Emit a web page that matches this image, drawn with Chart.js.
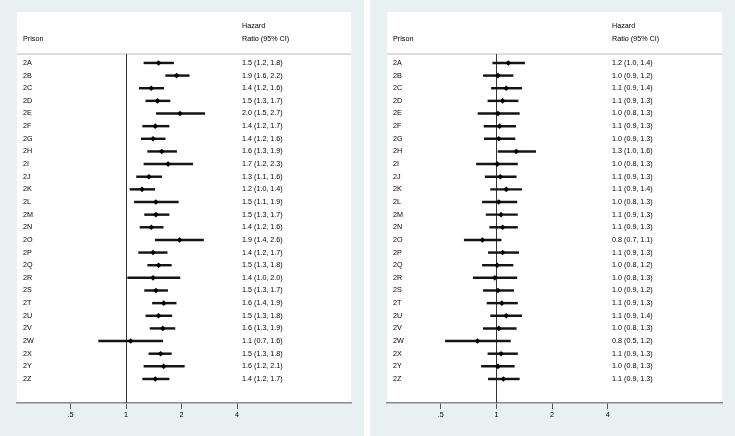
<!DOCTYPE html>
<html>
<head>
<meta charset="utf-8">
<script src="https://cdn.jsdelivr.net/npm/chart.js@4.4.1/dist/chart.umd.min.js"></script>
<style>
  body { margin: 0; background: #ffffff; width: 735px; height: 436px; overflow: hidden; }
  .panel { position: absolute; top: 0; height: 436px; background: #e9f0f2; }
  #leftBox { left: 0; width: 364px; }
  #rightBox { left: 370px; width: 365px; }
</style>
</head>
<body>
<div class="panel" id="leftBox"><canvas id="leftChart"></canvas></div>
<div class="panel" id="rightBox"><canvas id="rightChart"></canvas></div>
<script>
const prisons = ['2A','2B','2C','2D','2E','2F','2G','2H','2I','2J','2K','2L','2M',
                 '2N','2O','2P','2Q','2R','2S','2T','2U','2V','2W','2X','2Y','2Z'];

const tickValues = [0.5, 1, 2, 4];
const tickLabels = ['.5', '1', '2', '4'];

// left panel
const leftHR = [1.50,1.88,1.37,1.48,1.96,1.44,1.40,1.56,1.69,1.33,1.22,1.45,1.45,
                1.37,1.95,1.40,1.50,1.40,1.45,1.60,1.50,1.58,1.06,1.54,1.60,1.44];
const leftLow = [1.25,1.64,1.18,1.28,1.46,1.23,1.21,1.31,1.25,1.14,1.05,1.11,1.26,
                 1.19,1.44,1.17,1.31,1.02,1.26,1.39,1.28,1.35,0.71,1.33,1.25,1.23];
const leftHigh = [1.81,2.20,1.60,1.73,2.67,1.71,1.63,1.88,2.30,1.56,1.43,1.92,1.71,
                  1.59,2.63,1.67,1.76,1.96,1.68,1.87,1.77,1.84,1.58,1.76,2.07,1.71];
const leftText = ['1.5 (1.2, 1.8)','1.9 (1.6, 2.2)','1.4 (1.2, 1.6)','1.5 (1.3, 1.7)',
  '2.0 (1.5, 2.7)','1.4 (1.2, 1.7)','1.4 (1.2, 1.6)','1.6 (1.3, 1.9)','1.7 (1.2, 2.3)',
  '1.3 (1.1, 1.6)','1.2 (1.0, 1.4)','1.5 (1.1, 1.9)','1.5 (1.3, 1.7)','1.4 (1.2, 1.6)',
  '1.9 (1.4, 2.6)','1.4 (1.2, 1.7)','1.5 (1.3, 1.8)','1.4 (1.0, 2.0)','1.5 (1.3, 1.7)',
  '1.6 (1.4, 1.9)','1.5 (1.3, 1.8)','1.6 (1.3, 1.9)','1.1 (0.7, 1.6)','1.5 (1.3, 1.8)',
  '1.6 (1.2, 2.1)','1.4 (1.2, 1.7)'];

// right panel
const rightHR = [1.16,1.02,1.13,1.08,1.02,1.04,1.03,1.28,1.01,1.05,1.13,1.03,1.06,
                 1.08,0.84,1.08,1.01,0.98,1.02,1.07,1.13,1.03,0.79,1.06,1.02,1.09];
const rightLow = [0.955,0.85,0.94,0.90,0.795,0.857,0.86,1.02,0.78,0.87,0.93,0.84,0.88,
                  0.92,0.67,0.905,0.84,0.75,0.85,0.89,0.93,0.85,0.53,0.90,0.83,0.905];
const rightHigh = [1.42,1.23,1.37,1.31,1.33,1.27,1.26,1.63,1.30,1.28,1.37,1.29,1.30,
                   1.30,1.06,1.32,1.23,1.29,1.24,1.30,1.37,1.28,1.19,1.30,1.25,1.33];
const rightText = ['1.2 (1.0, 1.4)','1.0 (0.9, 1.2)','1.1 (0.9, 1.4)','1.1 (0.9, 1.3)',
  '1.0 (0.8, 1.3)','1.1 (0.9, 1.3)','1.0 (0.9, 1.3)','1.3 (1.0, 1.6)','1.0 (0.8, 1.3)',
  '1.1 (0.9, 1.3)','1.1 (0.9, 1.4)','1.0 (0.8, 1.3)','1.1 (0.9, 1.3)','1.1 (0.9, 1.3)',
  '0.8 (0.7, 1.1)','1.1 (0.9, 1.3)','1.0 (0.8, 1.2)','1.0 (0.8, 1.3)','1.0 (0.9, 1.2)',
  '1.1 (0.9, 1.3)','1.1 (0.9, 1.4)','1.0 (0.8, 1.3)','0.8 (0.5, 1.2)','1.1 (0.9, 1.3)',
  '1.0 (0.8, 1.3)','1.1 (0.9, 1.3)'];

const FONT = '7.2px "Liberation Sans", Arial, sans-serif';
const INK = '#000000';

// white plot area, header, separator, reference line and the text columns
const forestDecor = {
  id: 'forestDecor',
  beforeDraw(chart) {
    const {ctx, chartArea: a} = chart;
    ctx.save();
    ctx.fillStyle = '#ffffff';
    ctx.fillRect(a.left, a.top, a.right - a.left, a.bottom - a.top);
    ctx.restore();
  },
  beforeDatasetsDraw(chart) {
    const {ctx, chartArea: a, scales} = chart;
    const sepY = a.top + 42;
    ctx.save();
    ctx.strokeStyle = '#d2d2d2';
    ctx.lineWidth = 1.5;
    ctx.beginPath();
    ctx.moveTo(a.left, sepY);
    ctx.lineTo(a.right, sepY);
    ctx.stroke();
    const x1 = Math.round(scales.x.getPixelForValue(1)) + 0.5;
    ctx.strokeStyle = '#333';
    ctx.lineWidth = 1;
    ctx.beginPath();
    ctx.moveTo(x1, sepY);
    ctx.lineTo(x1, a.bottom);
    ctx.stroke();
    ctx.restore();
  },
  afterDraw(chart) {
    const {ctx, chartArea: a, scales} = chart;
    const texts = chart.options.plugins.forestDecor.texts;
    ctx.save();
    ctx.font = FONT;
    ctx.fillStyle = INK;
    ctx.textBaseline = 'middle';
    ctx.textAlign = 'left';
    const colName = a.left + 6, colHR = a.left + 225;
    ctx.fillText('Prison', colName, a.top + 27);
    ctx.fillText('Hazard', colHR, a.top + 14);
    ctx.fillText('Ratio (95% CI)', colHR, a.top + 27);
    prisons.forEach((p, i) => {
      const y = scales.y.getPixelForValue(i + 1);
      ctx.fillText(p, colName, y);
      ctx.fillText(texts[i], colHR, y);
    });
    ctx.restore();
  }
};

function drawForest(canvasId, hr, low, high, texts) {
  const ctx = document.getElementById(canvasId);
  return new Chart(ctx, {
    type: 'bar',
    data: {
      datasets: [{
        type: 'scatter',
        data: hr.map((v, i) => ({x: v, y: i + 1})),
        pointStyle: 'rectRot',
        pointRadius: 2.8,
        pointBackgroundColor: '#000',
        pointBorderWidth: 0,
        showLine: false,
        order: 0
      }, {
        type: 'bar',
        data: low.map((v, i) => ({x: [v, high[i]], y: i + 1})),
        backgroundColor: '#151515',
        borderWidth: 0,
        barThickness: 1.8,
        order: 1
      }]
    },
    options: {
      indexAxis: 'y',
      responsive: false,
      animation: false,
      events: [],
      layout: {padding: {left: 17, right: 13, top: 12, bottom: 0}},
      plugins: {legend: {display: false}, tooltip: {enabled: false}, forestDecor: {texts: texts}},
      scales: {
        x: {
          type: 'logarithmic',
          min: 0.256,
          max: 16.6,
          afterBuildTicks: s => { s.ticks = tickValues.map(v => ({value: v})); },
          afterFit: s => { s.height = 33; },
          ticks: {
            callback: v => tickLabels[tickValues.indexOf(v)],
            color: INK,
            font: {family: '"Liberation Sans", Arial, sans-serif', size: 7.2},
            padding: 2,
            maxRotation: 0,
            autoSkip: false
          },
          grid: {drawOnChartArea: false, drawTicks: true, tickLength: 6, color: '#555', tickWidth: 1},
          border: {display: true, color: '#8a8a8a', width: 1.5}
        },
        y: {
          type: 'linear',
          reverse: true,
          offset: false,
          min: -3.03,
          max: 27.9,
          display: false
        }
      }
    },
    plugins: [forestDecor]
  });
}

document.getElementById('leftChart').width = 364;
document.getElementById('leftChart').height = 436;
document.getElementById('rightChart').width = 365;
document.getElementById('rightChart').height = 436;

drawForest('leftChart', leftHR, leftLow, leftHigh, leftText);
drawForest('rightChart', rightHR, rightLow, rightHigh, rightText);
</script>
</body>
</html>
